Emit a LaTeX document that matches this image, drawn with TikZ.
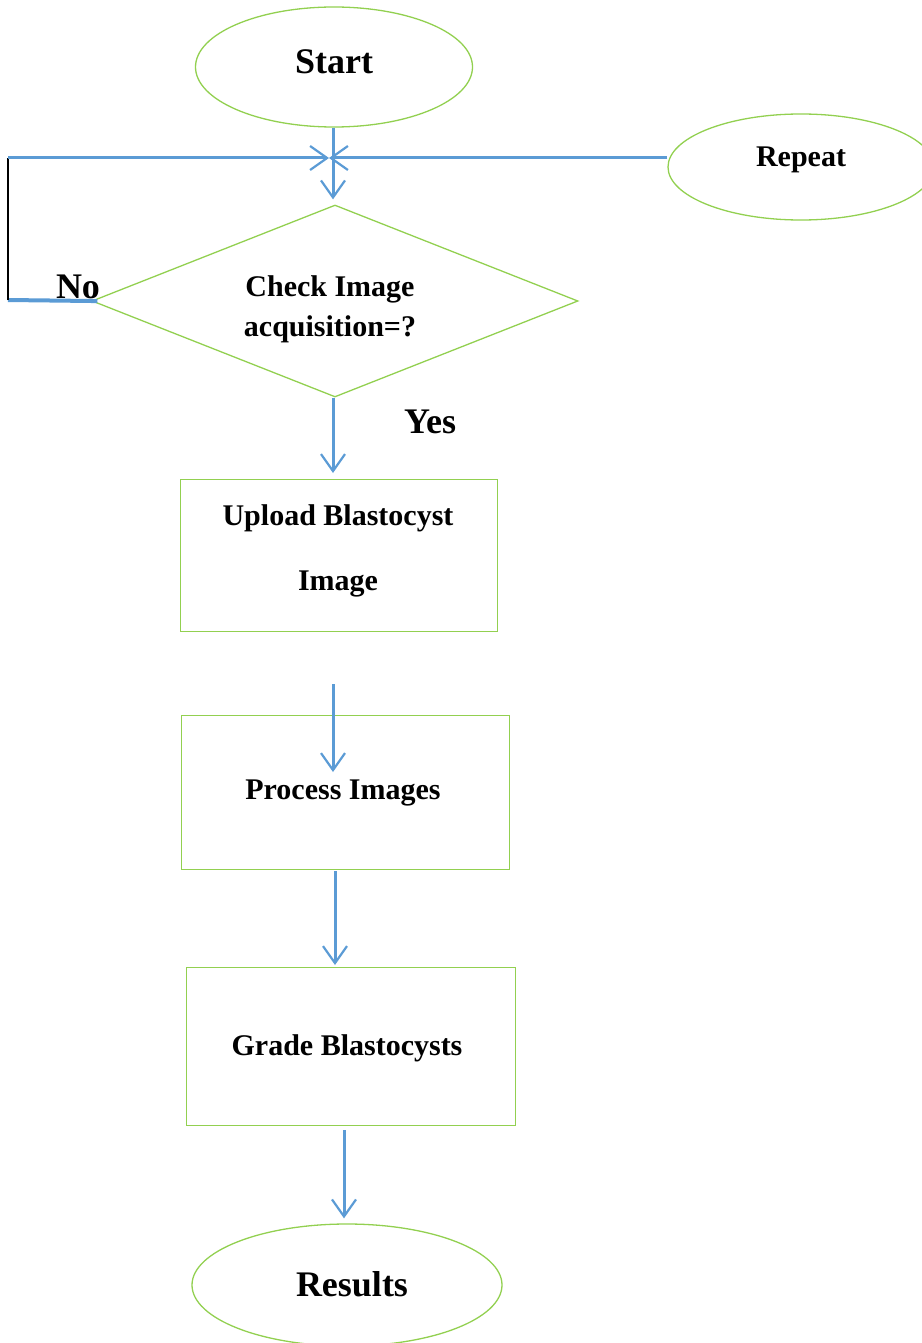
\documentclass[tikz,border=0pt]{standalone}
\usepackage{fontspec}
\setmainfont{Liberation Serif}
\usetikzlibrary{shapes.geometric,arrows.meta}
\definecolor{flowblue}{RGB}{91,155,213}
\definecolor{boxgreen}{RGB}{146,208,80}
\tikzset{
  outline/.style={draw=boxgreen, line width=1.3pt},
  term/.style={outline, ellipse, inner sep=0pt},
  stepbox/.style={outline, rectangle, inner sep=0pt, anchor=north west},
  bigtxt/.style={font=\fontsize{36}{42}\selectfont\bfseries},
  smalltxt/.style={font=\fontsize{30}{36}\selectfont\bfseries, align=center},
  flow/.style={draw=flowblue, line width=3pt,
    -{Straight Barb[length=17pt,width=24pt,line width=2.2pt]}},
  link/.style={draw=flowblue, line width=4pt}
}
\begin{document}
\begin{tikzpicture}[x=1pt,y=-1pt]
\useasboundingbox (0,0) rectangle (921,1343);

% terminals and decision
\node[term, minimum width=277pt, minimum height=120pt] (start) at (334,67) {};
\node[bigtxt] (starttxt) at (334,62) {Start};
\node[term, minimum width=266pt, minimum height=106pt] (rep) at (801,167) {};
\node[smalltxt] (reptxt) at (801,160) {Repeat};
\node[outline, diamond, inner sep=0pt, minimum width=486pt, minimum height=192pt] (dia) at (335,301) {};
\node[smalltxt] (diatxt) at (330,309) {Check Image\\[4pt]acquisition=?};

% process boxes
\node[stepbox, minimum width=317pt, minimum height=152pt] (box1) at (180,479) {};
\node[smalltxt] (box1txt) at (338,551) {Upload Blastocyst\\[29pt]Image};
\node[stepbox, minimum width=328pt, minimum height=154pt] (box2) at (181,715) {};
\node[smalltxt] (box2txt) at (343,793) {Process Images};
\node[stepbox, minimum width=329pt, minimum height=158pt] (box3) at (186,967) {};
\node[smalltxt] (box3txt) at (347,1048) {Grade Blastocysts};
\node[term, minimum width=310pt, minimum height=122pt] (res) at (347,1285) {};
\node[bigtxt] (restxt) at (352,1284) {Results};

% branch labels
\node[bigtxt] (no) at (78,287) {No};
\node[bigtxt] (yes) at (430,422) {Yes};

% loop-back helpers
\coordinate (loopbot) at (8,300);
\coordinate (looptop) at (8,158);
\coordinate (merge) at (333,158);
\coordinate (p2) at (333,772);

% connectors
\draw[flow, shorten >=5pt] (start.south -| merge) -- (dia.north -| merge);
\draw[link, shorten <=-6pt] (dia.west) -- (loopbot);
\draw[black, line width=1.5pt] (loopbot) -- (looptop);
\draw[flow, shorten >=4pt] (looptop) -- (merge);
\draw[flow, shorten >=-4pt] (rep.west |- merge) -- (merge);
\draw[flow, shorten >=6pt] (dia.south -| merge) -- (box1.north -| merge);
\draw[flow, shorten <=52pt] (box1.south -| p2) -- (p2);
\draw[flow, shorten <=1pt, shorten >=2pt] (box2.south -| dia.south) -- (box3.north -| dia.south);
\draw[flow, shorten <=4pt, shorten >=5pt] (box3.south -| 344,0) -- (res.north -| 344,0);
\end{tikzpicture}
\end{document}
